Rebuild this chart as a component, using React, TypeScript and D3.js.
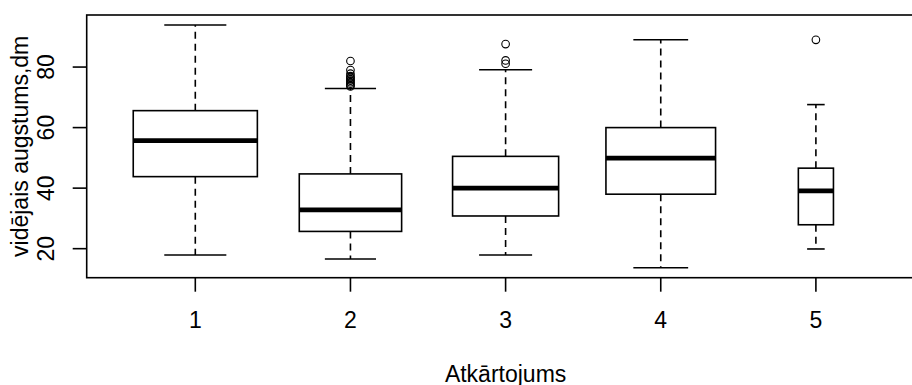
import React from "react";
import * as d3 from "d3";

const categories = ["1", "2", "3", "4", "5"];
const groupSizes = [100, 68, 73, 78, 8];
const whiskerLow = [17.9, 16.6, 17.9, 13.7, 19.9];
const q1 = [43.8, 25.7, 30.8, 38.0, 27.9];
const medians = [55.7, 32.8, 40.0, 49.9, 39.1];
const q3 = [65.6, 44.7, 50.5, 60.0, 46.6];
const whiskerHigh = [93.9, 72.9, 79.1, 89.0, 67.6];
const outliers: number[][] = [
  [],
  [82.0, 79.0, 77.8, 77.0, 76.5, 76.0, 75.5, 75.0, 74.5, 74.0, 73.6],
  [87.6, 82.2, 81.1],
  [],
  [89.0],
];
const yTicks = [20, 40, 60, 80];
const xLabel = "Atkārtojums";
const yLabel = "vidējais augstums,dm";

export default function App() {
  const W = 912;
  const H = 385;
  const left = 86.7;
  const top = 15;
  const bottom = 277.7;
  const x = d3.scaleLinear().domain([0.3, 5.7]).range([left, 924.5]);
  const y = d3.scaleLinear().domain([10.41, 97.2]).range([bottom, top]);
  const unit = x(2) - x(1);
  const maxN = d3.max(groupSizes) as number;
  const font = "'Liberation Sans', Arial, sans-serif";
  const fs = 23;
  const lw = 1.6;

  return (
    <svg
      width={W}
      height={H}
      style={{ position: "absolute", left: 0, top: 0, background: "#fff" }}
    >
      <rect x={0} y={0} width={W} height={H} fill="#fff" />
      {categories.map((c, i) => {
        const cx = x(i + 1);
        const hw = 0.4 * unit * Math.sqrt(groupSizes[i] / maxN);
        const cap = hw / 2;
        return (
          <g key={c}>
            <line x1={cx} x2={cx} y1={y(q3[i])} y2={y(whiskerHigh[i])} stroke="#000" strokeWidth={lw} strokeDasharray="7,5" />
            <line x1={cx} x2={cx} y1={y(q1[i])} y2={y(whiskerLow[i])} stroke="#000" strokeWidth={lw} strokeDasharray="7,5" />
            <line x1={cx - cap} x2={cx + cap} y1={y(whiskerHigh[i])} y2={y(whiskerHigh[i])} stroke="#000" strokeWidth={lw} />
            <line x1={cx - cap} x2={cx + cap} y1={y(whiskerLow[i])} y2={y(whiskerLow[i])} stroke="#000" strokeWidth={lw} />
            <rect x={cx - hw} y={y(q3[i])} width={2 * hw} height={y(q1[i]) - y(q3[i])} fill="#fff" stroke="#000" strokeWidth={lw} />
            <line x1={cx - hw} x2={cx + hw} y1={y(medians[i])} y2={y(medians[i])} stroke="#000" strokeWidth={4.7} />
            {outliers[i].map((v, j) => (
              <circle key={j} cx={cx} cy={y(v)} r={3.8} fill="none" stroke="#000" strokeWidth={1.1} />
            ))}
          </g>
        );
      })}
      <rect x={left} y={top} width={924.5 - left} height={bottom - top} fill="none" stroke="#000" strokeWidth={lw} />
      {yTicks.map((t) => (
        <g key={t}>
          <line x1={left - 14} x2={left} y1={y(t)} y2={y(t)} stroke="#000" strokeWidth={lw} />
          <text
            transform={`translate(53.5,${y(t)}) rotate(-90)`}
            textAnchor="middle"
            fontFamily={font}
            fontSize={fs}
          >
            {t}
          </text>
        </g>
      ))}
      {categories.map((c, i) => (
        <g key={c}>
          <line x1={x(i + 1)} x2={x(i + 1)} y1={bottom} y2={bottom + 14} stroke="#000" strokeWidth={lw} />
          <text x={x(i + 1)} y={328} textAnchor="middle" fontFamily={font} fontSize={fs}>
            {c}
          </text>
        </g>
      ))}
      <text x={x(3)} y={381.5} textAnchor="middle" fontFamily={font} fontSize={fs}>
        {xLabel}
      </text>
      <text
        transform={`translate(27.5,${(top + bottom) / 2}) rotate(-90)`}
        textAnchor="middle"
        fontFamily={font}
        fontSize={fs}
      >
        {yLabel}
      </text>
    </svg>
  );
}
